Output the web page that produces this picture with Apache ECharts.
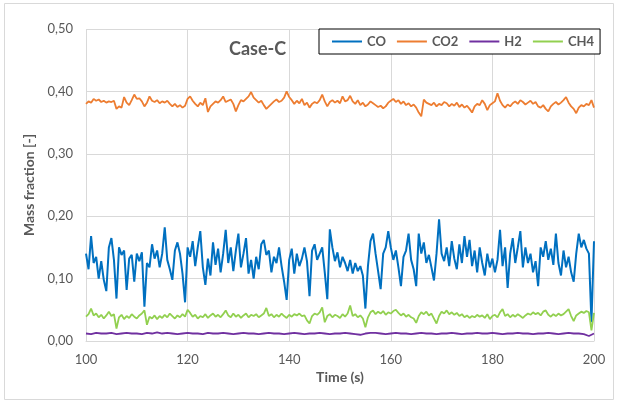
<!DOCTYPE html>
<html>
<head>
<meta charset="utf-8">
<script src="https://cdn.jsdelivr.net/npm/echarts@6/dist/echarts.min.js"></script>
<style>
  html, body { margin: 0; padding: 0; background: #fff; }
  #chart { width: 619px; height: 403px; }
</style>
</head>
<body>
<div id="chart"></div>
<script>
  // sampling: CO, CO2, CH4 every 0.5 s, H2 every 1 s, starting at t = 100 s
  const tStart = 100
  const xTicks = [100, 120, 140, 160, 180, 200]
  const yTicks = [0, 0.1, 0.2, 0.3, 0.4, 0.5]

  const co = [
    0.140,0.115,0.168,0.125,0.135,0.100,0.128,0.098,0.080,0.150, // 100
    0.165,0.130,0.068,0.150,0.138,0.145,0.082,0.132,0.138,0.095, // 105
    0.140,0.128,0.142,0.055,0.125,0.118,0.155,0.132,0.145,0.118, // 110
    0.140,0.182,0.130,0.115,0.098,0.145,0.158,0.140,0.108,0.062, // 115
    0.150,0.135,0.160,0.120,0.150,0.176,0.118,0.090,0.132,0.105, // 120
    0.158,0.122,0.148,0.110,0.140,0.178,0.125,0.150,0.112,0.145, // 125
    0.172,0.118,0.140,0.165,0.108,0.130,0.100,0.135,0.115,0.155, // 130
    0.162,0.138,0.145,0.110,0.135,0.125,0.150,0.120,0.095,0.066, // 135
    0.130,0.148,0.108,0.140,0.120,0.132,0.150,0.128,0.072,0.145, // 140
    0.155,0.130,0.140,0.150,0.110,0.067,0.179,0.150,0.128,0.142, // 145
    0.118,0.135,0.125,0.112,0.130,0.108,0.125,0.112,0.120,0.105, // 150
    0.052,0.120,0.160,0.172,0.140,0.112,0.083,0.140,0.150,0.176, // 155
    0.150,0.130,0.145,0.118,0.088,0.135,0.145,0.172,0.130,0.115, // 160
    0.088,0.172,0.140,0.158,0.125,0.138,0.118,0.097,0.140,0.195, // 165
    0.140,0.128,0.150,0.120,0.160,0.132,0.115,0.155,0.125,0.168, // 170
    0.135,0.162,0.120,0.145,0.110,0.150,0.125,0.105,0.140,0.118, // 175
    0.132,0.110,0.130,0.178,0.120,0.150,0.085,0.140,0.165,0.125, // 180
    0.150,0.176,0.118,0.150,0.125,0.140,0.110,0.128,0.088,0.150, // 185
    0.135,0.160,0.130,0.148,0.122,0.172,0.125,0.105,0.145,0.118, // 190
    0.135,0.110,0.095,0.140,0.172,0.150,0.162,0.148,0.140,0.030, // 195
    0.160
  ]

  const co2 = [
    0.380,0.384,0.382,0.388,0.385,0.387,0.383,0.385,0.382,0.384,
    0.383,0.385,0.372,0.376,0.374,0.391,0.382,0.378,0.386,0.395,
    0.388,0.389,0.384,0.376,0.382,0.392,0.385,0.383,0.386,0.381,
    0.384,0.382,0.385,0.380,0.376,0.380,0.375,0.378,0.374,0.377,
    0.388,0.392,0.385,0.380,0.376,0.382,0.378,0.389,0.367,0.376,
    0.380,0.384,0.382,0.386,0.392,0.383,0.385,0.387,0.380,0.368,
    0.378,0.386,0.384,0.388,0.392,0.399,0.390,0.386,0.382,0.385,
    0.378,0.372,0.376,0.380,0.384,0.387,0.383,0.385,0.390,0.400,
    0.391,0.386,0.380,0.385,0.381,0.388,0.378,0.382,0.374,0.380,
    0.383,0.381,0.386,0.395,0.384,0.376,0.383,0.386,0.382,0.385,
    0.381,0.392,0.384,0.386,0.393,0.384,0.380,0.386,0.378,0.382,
    0.376,0.379,0.384,0.381,0.378,0.375,0.377,0.373,0.376,0.382,
    0.385,0.388,0.383,0.386,0.380,0.384,0.378,0.381,0.376,0.379,
    0.374,0.366,0.360,0.387,0.382,0.380,0.378,0.382,0.376,0.380,
    0.378,0.383,0.381,0.376,0.380,0.377,0.382,0.375,0.379,0.374,
    0.377,0.372,0.366,0.376,0.380,0.378,0.386,0.380,0.370,0.378,
    0.381,0.384,0.397,0.385,0.378,0.374,0.379,0.376,0.381,0.384,
    0.380,0.386,0.383,0.379,0.382,0.385,0.380,0.383,0.376,0.374,
    0.378,0.372,0.368,0.376,0.380,0.383,0.379,0.382,0.386,0.391,
    0.382,0.376,0.372,0.365,0.374,0.378,0.376,0.380,0.378,0.386,
    0.374
  ]

  const h2 = [
    0.012,0.011,0.013,0.012,0.012,0.013,0.011,0.012,0.013,0.012,
    0.012,0.011,0.013,0.012,0.014,0.012,0.013,0.012,0.011,0.012,
    0.013,0.012,0.012,0.011,0.013,0.012,0.012,0.013,0.012,0.011,
    0.012,0.013,0.012,0.012,0.011,0.012,0.013,0.012,0.012,0.011,
    0.012,0.013,0.012,0.011,0.012,0.012,0.013,0.012,0.011,0.012,
    0.012,0.013,0.012,0.011,0.010,0.012,0.013,0.013,0.012,0.011,
    0.012,0.013,0.012,0.012,0.011,0.012,0.013,0.012,0.012,0.011,
    0.012,0.012,0.013,0.012,0.011,0.012,0.012,0.013,0.012,0.012,
    0.013,0.012,0.011,0.012,0.012,0.013,0.012,0.012,0.011,0.012,
    0.012,0.013,0.012,0.011,0.012,0.013,0.012,0.012,0.011,0.008,
    0.012
  ]

  const ch4 = [
    0.039,0.043,0.052,0.041,0.044,0.038,0.042,0.036,0.041,0.047,
    0.040,0.043,0.020,0.038,0.042,0.035,0.040,0.037,0.043,0.039,
    0.036,0.041,0.044,0.049,0.026,0.039,0.036,0.041,0.035,0.040,
    0.037,0.042,0.038,0.044,0.040,0.036,0.041,0.038,0.043,0.039,
    0.050,0.045,0.039,0.042,0.036,0.040,0.038,0.043,0.037,0.041,
    0.044,0.039,0.042,0.038,0.043,0.049,0.041,0.038,0.044,0.039,
    0.042,0.037,0.041,0.044,0.038,0.042,0.040,0.043,0.038,0.041,
    0.044,0.053,0.040,0.043,0.038,0.042,0.039,0.044,0.040,0.037,
    0.042,0.039,0.043,0.041,0.044,0.040,0.041,0.033,0.028,0.040,
    0.044,0.042,0.046,0.054,0.030,0.040,0.043,0.038,0.042,0.040,
    0.037,0.043,0.039,0.044,0.057,0.040,0.043,0.038,0.041,0.036,
    0.022,0.038,0.046,0.049,0.043,0.047,0.044,0.048,0.042,0.046,
    0.044,0.048,0.050,0.045,0.041,0.044,0.039,0.042,0.038,0.036,
    0.029,0.040,0.046,0.043,0.047,0.041,0.044,0.036,0.028,0.040,
    0.047,0.044,0.049,0.043,0.046,0.042,0.045,0.040,0.043,0.038,
    0.041,0.037,0.040,0.038,0.042,0.039,0.041,0.037,0.043,0.035,
    0.040,0.042,0.038,0.046,0.051,0.040,0.043,0.038,0.042,0.039,
    0.043,0.040,0.037,0.041,0.044,0.042,0.046,0.043,0.045,0.041,
    0.047,0.049,0.042,0.039,0.043,0.040,0.044,0.041,0.043,0.047,
    0.051,0.040,0.032,0.041,0.044,0.047,0.045,0.048,0.046,0.017,
    0.045
  ]

  const seriesNames = ['CO', 'CO2', 'H2', 'CH4']
  const seriesColors = ['#0070C0', '#ED7D31', '#7030A0', '#92D050']

  // pair each value with its time stamp
  function withTime (values, step) {
    return values.map((v, i) => [tStart + i * step, v])
  }

  const chart = echarts.init(document.getElementById('chart'), null, { renderer: 'canvas' })
  const textColor = '#595959'
  const gridColor = '#D9D9D9'
  const font = 'Lato, Open Sans, sans-serif'

  function lineSeries (name, color, data, width) {
    return {
      name: name,
      type: 'line',
      data: data,
      showSymbol: false,
      symbol: 'none',
      color: color,
      lineStyle: { color: color, width: width },
      emphasis: { disabled: true }
    }
  }

  chart.setOption({
    animation: false,
    textStyle: { fontFamily: font },
    graphic: [{
      type: 'rect',
      shape: { x: 4.5, y: 3.5, width: 609, height: 396 },
      style: { fill: 'none', stroke: gridColor, lineWidth: 1 },
      z: -1
    }],
    title: {
      text: 'Case-C',
      left: 224,
      top: 35,
      textStyle: { color: textColor, fontSize: 18, fontWeight: 'bold', fontFamily: font }
    },
    legend: {
      data: seriesNames,
      left: 319,
      top: 29,
      padding: [6, 6, 6, 13],
      itemGap: 11,
      itemWidth: 30,
      itemHeight: 2,
      icon: 'rect',
      borderColor: '#000',
      borderWidth: 1,
      backgroundColor: '#fff',
      textStyle: { color: textColor, fontSize: 13, fontWeight: 'bold', fontFamily: font },
      z: 10
    },
    grid: { left: 86, right: 25, top: 29, bottom: 62 },
    xAxis: {
      type: 'value',
      min: xTicks[0],
      max: xTicks[xTicks.length - 1],
      interval: 20,
      name: 'Time (s)',
      nameLocation: 'middle',
      nameGap: 24,
      nameTextStyle: { color: textColor, fontSize: 14, fontWeight: 'bold' },
      axisLine: { show: true, lineStyle: { color: gridColor } },
      axisTick: { show: false },
      axisLabel: { color: textColor, fontSize: 13, margin: 12 },
      splitLine: { show: true, lineStyle: { color: gridColor, width: 1 } }
    },
    yAxis: {
      type: 'value',
      min: yTicks[0],
      max: yTicks[yTicks.length - 1],
      interval: 0.1,
      name: 'Mass fraction [-]',
      nameLocation: 'middle',
      nameGap: 41,
      nameTextStyle: { color: textColor, fontSize: 14, fontWeight: 'bold' },
      axisLine: { show: false },
      axisTick: { show: false },
      axisLabel: {
        color: textColor,
        fontSize: 13,
        margin: 13,
        formatter: v => v.toFixed(2).replace('.', ',')
      },
      splitLine: { show: true, lineStyle: { color: gridColor, width: 1 } }
    },
    series: [
      lineSeries('CO', seriesColors[0], withTime(co, 0.5), 2),
      lineSeries('CO2', seriesColors[1], withTime(co2, 0.5), 1.8),
      lineSeries('H2', seriesColors[2], withTime(h2, 1), 1.8),
      lineSeries('CH4', seriesColors[3], withTime(ch4, 0.5), 1.8)
    ]
  })
</script>
</body>
</html>
